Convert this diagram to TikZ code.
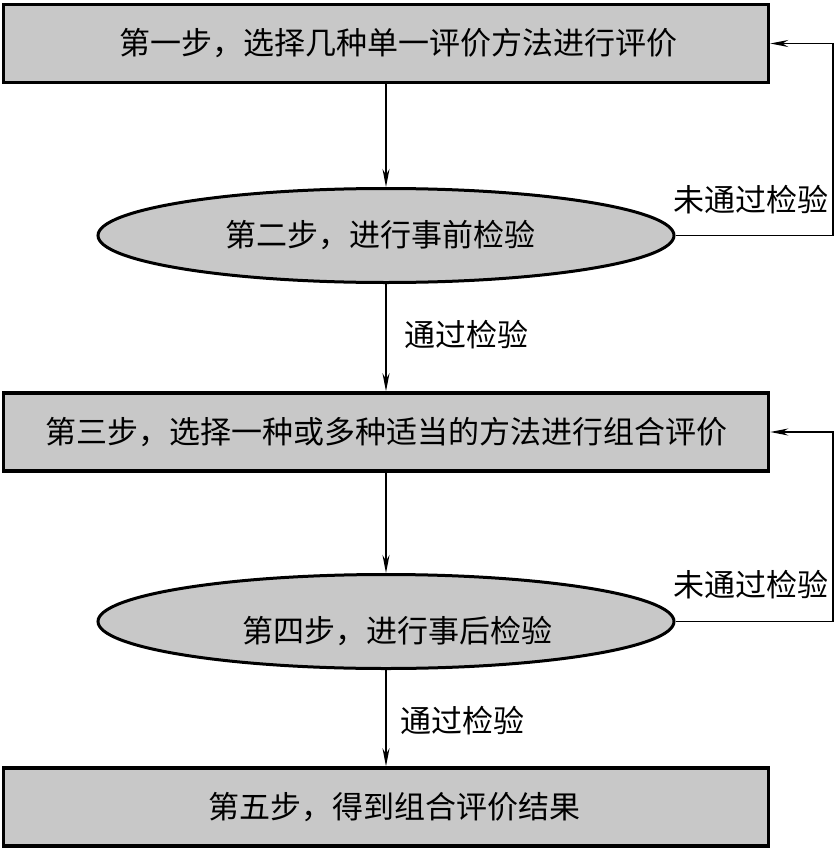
\documentclass[tikz,border=0pt]{standalone}
\usepackage{fontspec}
\setmainfont{Noto Sans CJK SC}
\usetikzlibrary{shapes.geometric,arrows.meta}
\definecolor{boxgray}{RGB}{200,200,200}
\begin{document}
\begin{tikzpicture}[x=1pt,y=-1pt,
  every node/.style={font=\fontsize{31}{36}\selectfont, inner sep=0pt},
  stepbox/.style={draw, line width=3.5pt, fill=boxgray, minimum width=765pt, minimum height=78pt},
  checkell/.style={draw, ellipse, line width=3pt, fill=boxgray, minimum width=576pt, minimum height=94pt},
  conn/.style={line width=1.3pt, -{Stealth[length=18pt,width=7pt]}},
  lbl/.style={font=\fontsize{31}{36}\selectfont}]
\useasboundingbox (0,0) rectangle (835,851);
\fill[white] (0,0) rectangle (835,851);
\node[stepbox] (s1) at (386,43.5) {};
\node (s1t) at (398,43.5) {第一步，选择几种单一评价方法进行评价};
\node[checkell] (s2) at (386,235.5) {};
\node (s2t) at (380,235.5) {第二步，进行事前检验};
\node[stepbox] (s3) at (386,432) {第三步，选择一种或多种适当的方法进行组合评价};
\node[checkell] (s4) at (386,621.5) {};
\node (s4t) at (397,631) {第四步，进行事后检验};
\node[stepbox] (s5) at (386,807) {};
\node (s5t) at (394,807) {第五步，得到组合评价结果};
\coordinate (r2) at (833,235.5);
\coordinate (t1) at (833,43.5);
\coordinate (r4) at (833,621.5);
\coordinate (t3) at (833,432);
\draw[conn] (s1) -- (s2);
\draw[conn] (s2) -- (s3);
\draw[conn] (s3) -- (s4);
\draw[conn] (s4) -- (s5);
\draw[conn] (s2.east) -- (r2) -- (t1) -- (s1.east);
\draw[conn] (s4.east) -- (r4) -- (t3) -- (s3.east);
\node[lbl, anchor=east] (f1) at (829,200) {未通过检验};
\node[lbl, anchor=east] (f2) at (829,585) {未通过检验};
\node[lbl, anchor=west] (p1) at (404,335) {通过检验};
\node[lbl, anchor=west] (p2) at (400,721) {通过检验};
\end{tikzpicture}
\end{document}
